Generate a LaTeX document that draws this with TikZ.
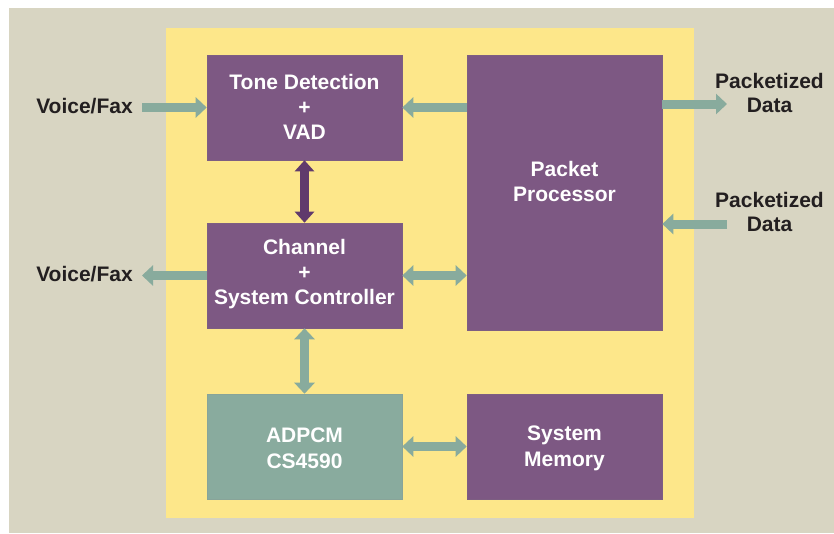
\documentclass[tikz,border=0pt]{standalone}
\usepackage{fontspec}
\setmainfont{Liberation Sans}
\usetikzlibrary{arrows.meta}
\definecolor{bgbeige}{RGB}{216,213,194}
\definecolor{inyellow}{RGB}{253,231,138}
\definecolor{boxpurple}{RGB}{125,88,131}
\definecolor{boxteal}{RGB}{137,171,158}
\definecolor{arrteal}{RGB}{136,171,157}
\definecolor{arrdark}{RGB}{96,58,108}
\definecolor{txtdark}{RGB}{35,31,32}
\tikzset{
  blockbox/.style={draw=boxpurple!85!gray, line width=0.6pt, fill=boxpurple, minimum width=195pt, minimum height=105pt, inner sep=0pt},
  boxtext/.style={text=white, font=\fontsize{21}{25}\selectfont\bfseries, align=center, inner sep=0pt},
  outtext/.style={text=txtdark, font=\fontsize{21}{24}\selectfont\bfseries, align=center, inner sep=0pt},
  flowarrow/.style={draw=arrteal, line width=9pt, -{Triangle[width=20pt,length=11pt]}},
  biarrow/.style={draw=arrteal, line width=9pt, {Triangle[width=20pt,length=11pt]}-{Triangle[width=20pt,length=11pt]}},
  darkarrow/.style={draw=arrdark, line width=9pt, {Triangle[width=19pt,length=11pt]}-{Triangle[width=19pt,length=11pt]}}
}
\begin{document}
\begin{tikzpicture}[x=1pt,y=-1pt]
\useasboundingbox (0,0) rectangle (834,533);
\fill[white] (0,0) rectangle (834,533);
\fill[bgbeige] (9,8) rectangle (834,533);
\fill[inyellow] (166,28) rectangle (694,518);

\node[blockbox] (tone) at (304.5,107.5) {};
\node[blockbox, minimum height=275pt] (pp) at (564.5,192.5) {};
\node[blockbox] (ch) at (304.5,275.5) {};
\node[blockbox, fill=boxteal, draw=boxteal!85!gray] (ad) at (304.5,446.5) {};
\node[blockbox] (mem) at (564.5,446.5) {};

\node[boxtext] (tonetext) at (304.5,106.5) {Tone Detection\\+\\VAD};
\node[boxtext] (pptext) at (564.5,181) {Packet\\Processor};
\node[boxtext] (chtext) at (304.5,274.5) {Channel\\+\\System Controller};
\node[boxtext, font=\fontsize{21}{26}\selectfont\bfseries] (adtext) at (304.5,448) {ADPCM\\CS4590};
\node[boxtext, font=\fontsize{21}{26}\selectfont\bfseries] (memtext) at (564.5,448) {System\\Memory};

\node[outtext] (vfin) at (84.5,106) {Voice/Fax};
\node[outtext] (vfout) at (84.5,274) {Voice/Fax};
\node[outtext] (pdout) at (769.5,92.5) {Packetized\\Data};
\node[outtext] (pdin) at (769.5,212) {Packetized\\Data};

\coordinate (vinstart) at (142,107.5);
\coordinate (voutend) at (142,275.5);
\coordinate (pdoutend) at (727,104);
\coordinate (pdinstart) at (727,224);

\draw[flowarrow] (vinstart) -- (vinstart -| tone.west);
\draw[flowarrow] (tone.east -| pp.west) -- (tone.east);
\draw[darkarrow] (tone.south) -- (ch.north);
\draw[flowarrow] (ch.west) -- (voutend);
\draw[biarrow] (ch.east) -- (ch.east -| pp.west);
\draw[biarrow] (ch.south) -- (ad.north);
\draw[biarrow] (ad.east) -- (mem.west);
\draw[flowarrow] (pdoutend -| pp.east) -- (pdoutend);
\draw[flowarrow] (pdinstart) -- (pdinstart -| pp.east);
\end{tikzpicture}
\end{document}
